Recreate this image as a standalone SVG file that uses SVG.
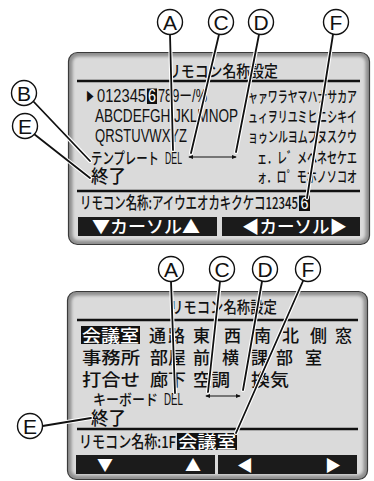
<svg xmlns="http://www.w3.org/2000/svg" width="374" height="481" viewBox="0 0 374 481">
<defs>
<style>
.jp{font-family:'Noto Sans CJK JP',sans-serif;font-weight:500;fill:#111}
.lat{font-family:'Liberation Sans','Noto Sans CJK JP',sans-serif;fill:#111}
.w{fill:#fff}
.lbl{font-family:'Liberation Sans',sans-serif;font-size:21px;text-anchor:middle;fill:#111}
.circ{fill:#fff;stroke:#111;stroke-width:1.4}
.halo{stroke:#fff;stroke-width:4;fill:none;stroke-linecap:round}
.lead{stroke:#111;stroke-width:1.8;fill:none;stroke-linecap:round}
.rule{stroke:#111;stroke-width:2.5}
.btn{fill:#1b1b1b}
.frame{fill:#8f8f8f;stroke:#3a3a3a;stroke-width:1.2}
.face{fill:#dadada}
.arr{stroke:#111;stroke-width:1;marker-start:url(#ah);marker-end:url(#ah)}
</style>
<filter id="soft" x="-5%" y="-5%" width="110%" height="110%"><feGaussianBlur stdDeviation="1.8"/></filter>
<marker id="ah" viewBox="0 0 6 6" refX="5" refY="3" markerWidth="5" markerHeight="5" orient="auto-start-reverse" markerUnits="userSpaceOnUse"><path d="M0,0.5 L6,3 L0,5.5 z" fill="#111"/></marker>
</defs>

<g id="screen1">
<rect class="frame" x="68.5" y="52.5" width="301" height="192" rx="9"/>
<rect class="face" x="72.5" y="56.5" width="293" height="184" rx="6" filter="url(#soft)"/>
<text class="jp" x="167" y="77" font-size="16" textLength="111" lengthAdjust="spacingAndGlyphs">リモコン名称設定</text>
<line class="rule" x1="77" y1="81" x2="360" y2="81"/>
<text class="jp" x="86" y="101" font-size="12" textLength="8" lengthAdjust="spacingAndGlyphs">▶</text>
<text class="lat" x="97" y="102" font-size="17.5" textLength="49" lengthAdjust="spacingAndGlyphs">012345</text>
<rect x="147" y="88.5" width="10" height="15.5" fill="#111"/>
<text class="lat w" x="148" y="102" font-size="17.5" textLength="8" lengthAdjust="spacingAndGlyphs">6</text>
<text class="lat" x="158" y="102" font-size="17.5" textLength="49" lengthAdjust="spacingAndGlyphs">789ー/%</text>
<text class="lat" x="95" y="122" font-size="17.5" textLength="143" lengthAdjust="spacingAndGlyphs">ABCDEFGHIJKLMNOP</text>
<text class="lat" x="95" y="142" font-size="17.5" textLength="92" lengthAdjust="spacingAndGlyphs">QRSTUVWXYZ</text>
<text class="jp" x="91" y="164" font-size="16" textLength="68" lengthAdjust="spacingAndGlyphs">テンプレート</text>
<text class="lat" x="165" y="164" font-size="16.5" textLength="17" lengthAdjust="spacingAndGlyphs">DEL</text>
<line class="arr" x1="189" y1="157" x2="236" y2="157"/>
<text class="jp" x="91" y="183" font-size="18.5" textLength="35" lengthAdjust="spacingAndGlyphs">終了</text>
<text class="jp" x="248" y="102" font-size="15" textLength="109" lengthAdjust="spacingAndGlyphs">ャァワラヤマハナサカア</text>
<text class="jp" x="248" y="122" font-size="15" textLength="109" lengthAdjust="spacingAndGlyphs">ュィヲリユミヒニシキイ</text>
<text class="jp" x="248" y="142" font-size="15" textLength="109" lengthAdjust="spacingAndGlyphs">ョゥンルヨムフヌスクウ</text>
<text class="jp" x="257" y="163" font-size="15" textLength="100" lengthAdjust="spacingAndGlyphs">ェ．レ゛メヘネセケエ</text>
<text class="jp" x="257" y="182" font-size="15" textLength="100" lengthAdjust="spacingAndGlyphs">ォ．ロ゜モホノソコオ</text>
<line class="rule" x1="77" y1="191" x2="360" y2="191"/>
<text class="jp" x="80" y="209" font-size="16.5" textLength="218" lengthAdjust="spacingAndGlyphs">リモコン名称:アイウエオカキクケコ12345</text>
<rect x="299" y="195.5" width="11" height="15.5" fill="#111"/>
<text class="lat w" x="300.5" y="209" font-size="16.5" textLength="8" lengthAdjust="spacingAndGlyphs">6</text>
<rect class="btn" x="78" y="217" width="139" height="19"/>
<rect class="btn" x="222" y="217" width="138" height="19"/>
<text class="jp w" x="92" y="233" font-size="17.5" textLength="108" lengthAdjust="spacingAndGlyphs">▼カーソル▲</text>
<text class="jp w" x="242" y="233" font-size="17.5" textLength="105" lengthAdjust="spacingAndGlyphs">◀カーソル▶</text>
</g>

<g id="screen2">
<rect class="frame" x="67.5" y="291.5" width="300" height="188" rx="9"/>
<rect class="face" x="71.5" y="295.5" width="292" height="180" rx="6" filter="url(#soft)"/>
<text class="jp" x="170" y="313" font-size="16" textLength="107" lengthAdjust="spacingAndGlyphs">リモコン名称設定</text>
<line class="rule" x1="77" y1="320" x2="358" y2="320"/>
<rect x="81" y="326" width="59" height="18" fill="#111"/>
<text class="jp w" x="82" y="342" font-size="17" textLength="57" lengthAdjust="spacingAndGlyphs">会議室</text>
<g class="jp" font-size="17">
<text x="149" y="342">通</text><text x="168" y="342">路</text><text x="193" y="342">東</text><text x="224" y="342">西</text><text x="254" y="342">南</text><text x="282" y="342">北</text><text x="310" y="342">側</text><text x="335" y="342">窓</text>
<text x="82" y="364" textLength="58" lengthAdjust="spacingAndGlyphs">事務所</text>
<text x="150" y="364" textLength="36" lengthAdjust="spacingAndGlyphs">部屋</text>
<text x="193" y="364">前</text><text x="222" y="364">横</text><text x="251" y="364">課</text><text x="276" y="364">部</text><text x="305" y="364">室</text>
<text x="82" y="386" textLength="58" lengthAdjust="spacingAndGlyphs">打合せ</text>
<text x="150" y="386" textLength="36" lengthAdjust="spacingAndGlyphs">廊下</text>
<text x="193" y="386" textLength="37" lengthAdjust="spacingAndGlyphs">空調</text>
<text x="251" y="386" textLength="38" lengthAdjust="spacingAndGlyphs">換気</text>
</g>
<text class="jp" x="93" y="405" font-size="15" textLength="65" lengthAdjust="spacingAndGlyphs">キーボード</text>
<text class="lat" x="164" y="405" font-size="16.5" textLength="19" lengthAdjust="spacingAndGlyphs">DEL</text>
<line class="arr" x1="206" y1="396" x2="240" y2="396"/>
<text class="jp" x="91" y="425" font-size="18.5" textLength="35" lengthAdjust="spacingAndGlyphs">終了</text>
<line class="rule" x1="77" y1="429" x2="358" y2="429"/>
<text class="jp" x="79" y="448" font-size="16.5" textLength="97" lengthAdjust="spacingAndGlyphs">リモコン名称:1F</text>
<rect x="177" y="433" width="60" height="17" fill="#111"/>
<text class="jp w" x="178" y="448" font-size="17" textLength="58" lengthAdjust="spacingAndGlyphs">会議室</text>
<rect class="btn" x="76" y="455" width="139" height="19"/>
<rect class="btn" x="218" y="455" width="139" height="19"/>
<g class="jp w" font-size="16" text-anchor="middle">
<text x="105" y="471">▼</text><text x="193" y="471">▲</text><text x="245" y="471">◀</text><text x="333" y="471">▶</text>
</g>
</g>

<g id="connectors">
<path class="halo" d="M170,34.5 L173,150 M219,34.5 L191,153 M259,34.5 L236,152 M333,34.5 L307,198 M33,101 L90,161 M34,134 L90,178 M171,281.5 L175,393 M220,281.5 L208,392 M262,281.5 L243,390 M303,281 L236,433 M42.5,426 L91,418"/>
<path class="lead" d="M170,34.5 L173,150 M219,34.5 L191,153 M259,34.5 L236,152 M333,34.5 L307,198 M33,101 L90,161 M34,134 L90,178 M171,281.5 L175,393 M220,281.5 L208,392 M262,281.5 L243,390 M303,281 L236,433 M42.5,426 L91,418"/>
</g>

<g id="label-A1"><circle class="circ" cx="170" cy="22" r="12.5"/><text class="lbl" x="170" y="29.5">A</text></g>
<g id="label-C1"><circle class="circ" cx="221" cy="22" r="12.5"/><text class="lbl" x="221" y="29.5">C</text></g>
<g id="label-D1"><circle class="circ" cx="261" cy="22" r="12.5"/><text class="lbl" x="261" y="29.5">D</text></g>
<g id="label-F1"><circle class="circ" cx="336" cy="22" r="12.5"/><text class="lbl" x="336" y="29.5">F</text></g>
<g id="label-B1"><circle class="circ" cx="24" cy="93" r="12.5"/><text class="lbl" x="24" y="100.5">B</text></g>
<g id="label-E1"><circle class="circ" cx="25" cy="126" r="12.5"/><text class="lbl" x="25" y="133.5">E</text></g>
<g id="label-A2"><circle class="circ" cx="171" cy="269" r="12.5"/><text class="lbl" x="171" y="276.5">A</text></g>
<g id="label-C2"><circle class="circ" cx="222" cy="269" r="12.5"/><text class="lbl" x="222" y="276.5">C</text></g>
<g id="label-D2"><circle class="circ" cx="265" cy="269" r="12.5"/><text class="lbl" x="265" y="276.5">D</text></g>
<g id="label-F2"><circle class="circ" cx="308" cy="269" r="12.5"/><text class="lbl" x="308" y="276.5">F</text></g>
<g id="label-E2"><circle class="circ" cx="30" cy="426" r="12.5"/><text class="lbl" x="30" y="433.5">E</text></g>
</svg>
